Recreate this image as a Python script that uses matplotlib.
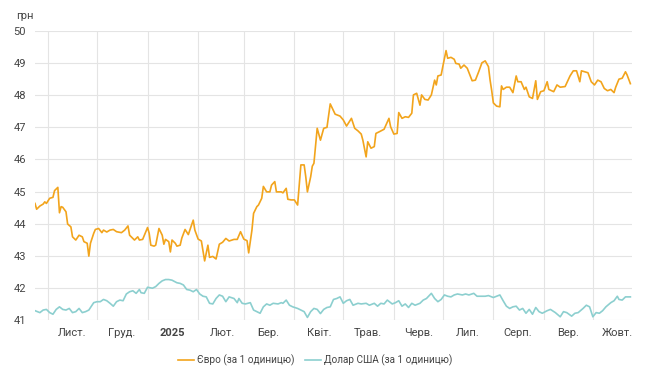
import numpy as np
import pandas as pd
import matplotlib
matplotlib.use("Agg")
import matplotlib.pyplot as plt

plt.rcParams['font.family'] = ['Roboto', 'DejaVu Sans']

start = pd.Timestamp('2024-10-24')
span_days = 366

# курс євро: день від початку періоду, грн
eur_day = [0, 1, 3, 5, 6, 7, 9, 11, 12, 14, 15, 16, 17, 19, 20, 22, 23, 25, 27, 29,
           30, 32, 33, 34, 36, 37, 39, 41, 42, 44, 46, 48, 50, 53, 55, 57, 58, 59, 61, 63,
           64, 66, 69, 70, 71, 73, 74, 76, 78, 79, 80, 82, 83, 84, 86, 87, 89, 90, 92, 94,
           97, 98, 100, 102, 104, 106, 107, 109, 111, 113, 115, 117, 119, 122, 124, 126, 128, 130, 131, 133,
           134, 136, 137, 139, 140, 142, 144, 145, 147, 148, 151, 152, 154, 155, 157, 159, 161, 163, 165, 166,
           167, 169, 170, 171, 173, 175, 177, 179, 181, 184, 187, 189, 191, 194, 196, 198, 200, 201, 203, 204,
           206, 208, 209, 211, 214, 217, 218, 220, 222, 223, 225, 227, 229, 231, 232, 234, 236, 237, 239, 241,
           243, 245, 246, 247, 249, 250, 252, 253, 255, 257, 258, 260, 261, 263, 265, 267, 268, 270, 272, 274,
           276, 278, 279, 280, 281, 283, 285, 286, 287, 289, 291, 293, 295, 296, 298, 300, 301, 303, 305, 307,
           308, 310, 312, 314, 315, 318, 320, 322, 325, 328, 330, 332, 334, 335, 337, 339, 341, 343, 345, 347,
           349, 351, 353, 355, 356, 358, 360, 362, 363, 365]
eur_val = [44.63, 44.45, 44.55, 44.61, 44.68, 44.63, 44.79, 44.82, 45.03, 45.13, 44.34, 44.53, 44.51, 44.37, 43.99, 43.90, 43.59, 43.49, 43.64, 43.59,
           43.44, 43.39, 42.99, 43.39, 43.70, 43.82, 43.85, 43.72, 43.80, 43.74, 43.80, 43.82, 43.75, 43.72, 43.80, 43.93, 43.64, 43.59, 43.49, 43.59,
           43.49, 43.51, 43.88, 43.70, 43.33, 43.30, 43.33, 43.85, 43.64, 43.36, 43.51, 43.44, 43.12, 43.49, 43.39, 43.30, 43.33, 43.55, 43.82, 43.66,
           44.11, 43.80, 43.52, 43.46, 42.84, 43.33, 42.95, 42.98, 42.90, 43.36, 43.42, 43.54, 43.46, 43.51, 43.51, 43.75, 43.52, 43.47, 43.09, 43.80,
           44.32, 44.53, 44.58, 44.79, 45.16, 44.99, 44.99, 45.20, 45.31, 44.99, 44.99, 44.96, 45.10, 44.76, 44.74, 44.74, 44.58, 45.83, 45.83, 45.46,
           44.99, 45.46, 45.79, 45.88, 46.97, 46.60, 46.97, 47.00, 47.73, 47.41, 47.35, 47.23, 47.04, 47.28, 46.97, 46.89, 46.79, 46.60, 46.08, 46.55,
           46.35, 46.40, 46.81, 46.86, 46.94, 47.28, 47.02, 46.79, 46.81, 47.46, 47.28, 47.33, 47.31, 47.44, 48.01, 48.06, 47.69, 48.01, 47.87, 47.85,
           48.01, 48.47, 48.32, 48.60, 48.63, 48.89, 49.39, 49.15, 49.18, 49.12, 48.99, 48.97, 48.84, 48.94, 48.84, 48.58, 48.45, 48.47, 48.73, 49.01,
           49.07, 48.89, 48.47, 48.14, 47.76, 47.66, 47.64, 48.29, 48.18, 48.25, 48.25, 48.08, 48.60, 48.42, 48.42, 48.18, 48.25, 47.95, 47.90, 48.45,
           47.87, 48.11, 48.14, 48.42, 48.18, 48.11, 48.32, 48.25, 48.27, 48.60, 48.76, 48.76, 48.42, 48.76, 48.73, 48.70, 48.42, 48.32, 48.47, 48.42,
           48.21, 48.14, 48.18, 48.08, 48.25, 48.50, 48.53, 48.73, 48.63, 48.36]

# курс долара США
usd_day = [0, 3, 5, 7, 9, 11, 13, 15, 17, 19, 21, 23, 25, 27, 29, 31, 33, 36, 38, 40,
           42, 44, 46, 48, 50, 52, 54, 56, 58, 60, 62, 64, 65, 67, 69, 72, 74, 76, 78, 80,
           82, 84, 87, 89, 91, 93, 95, 97, 99, 101, 103, 105, 107, 109, 111, 113, 115, 117, 119, 122,
           124, 125, 127, 129, 132, 134, 136, 138, 140, 142, 144, 146, 149, 151, 152, 154, 156, 158, 161, 163,
           165, 167, 169, 171, 173, 175, 177, 179, 181, 183, 185, 187, 189, 191, 193, 195, 198, 200, 203, 205,
           208, 210, 212, 214, 216, 219, 221, 223, 225, 227, 229, 231, 233, 236, 238, 240, 243, 245, 247, 249,
           251, 253, 255, 257, 259, 262, 264, 266, 269, 271, 273, 276, 278, 281, 283, 285, 287, 289, 291, 293,
           295, 297, 299, 301, 303, 305, 307, 309, 311, 314, 316, 319, 322, 324, 326, 329, 331, 333, 336, 338,
           340, 342, 344, 346, 348, 350, 353, 355, 357, 358, 360, 362, 365]
usd_val = [41.29, 41.23, 41.31, 41.33, 41.23, 41.18, 41.33, 41.41, 41.33, 41.31, 41.36, 41.23, 41.26, 41.36, 41.23, 41.26, 41.31, 41.54, 41.57, 41.57,
           41.64, 41.60, 41.52, 41.43, 41.57, 41.62, 41.60, 41.81, 41.88, 41.91, 41.83, 41.95, 41.85, 41.83, 42.02, 41.99, 42.04, 42.14, 42.22, 42.26,
           42.26, 42.24, 42.16, 42.14, 42.09, 41.95, 41.93, 41.88, 41.95, 41.81, 41.74, 41.72, 41.52, 41.50, 41.67, 41.78, 41.74, 41.57, 41.72, 41.67,
           41.54, 41.67, 41.52, 41.50, 41.54, 41.31, 41.26, 41.21, 41.41, 41.50, 41.46, 41.52, 41.50, 41.54, 41.52, 41.62, 41.46, 41.41, 41.36, 41.31,
           41.26, 41.08, 41.26, 41.36, 41.33, 41.20, 41.33, 41.39, 41.41, 41.64, 41.67, 41.72, 41.52, 41.60, 41.64, 41.46, 41.52, 41.50, 41.52, 41.46,
           41.52, 41.43, 41.52, 41.50, 41.62, 41.50, 41.54, 41.60, 41.43, 41.50, 41.39, 41.52, 41.46, 41.52, 41.62, 41.67, 41.83, 41.67, 41.57, 41.64,
           41.78, 41.74, 41.72, 41.78, 41.81, 41.78, 41.81, 41.78, 41.83, 41.74, 41.74, 41.74, 41.76, 41.70, 41.74, 41.78, 41.60, 41.43, 41.36, 41.41,
           41.43, 41.31, 41.36, 41.21, 41.33, 41.18, 41.39, 41.26, 41.21, 41.29, 41.33, 41.23, 41.10, 41.26, 41.23, 41.12, 41.21, 41.23, 41.36, 41.46,
           41.41, 41.10, 41.23, 41.21, 41.29, 41.41, 41.54, 41.60, 41.74, 41.64, 41.62, 41.72, 41.72]

month_labels = ['Лист.', 'Груд.', '2025', 'Лют.', 'Бер.', 'Квіт.', 'Трав.', 'Черв.',
                'Лип.', 'Серп.', 'Вер.', 'Жовт.']
series_names = ['Євро (за 1 одиницю)', 'Долар США (за 1 одиницю)']

eur_color = '#f2a41c'
usd_color = '#8ccfcf'
text_color = '#444444'
grid_color = '#e4e4e4'

eur_dates = start + pd.to_timedelta(eur_day, unit='D')
usd_dates = start + pd.to_timedelta(usd_day, unit='D')

fig = plt.figure(figsize=(6.5, 3.83), dpi=100)
ax = fig.add_axes([35 / 650, 1 - 320 / 383, 597 / 650, 289 / 383])

ax.plot(eur_dates, eur_val, color=eur_color, lw=1.2, label=series_names[0], zorder=3)
ax.plot(usd_dates, usd_val, color=usd_color, lw=1.2, label=series_names[1], zorder=3)

ax.set_xlim(start, start + pd.Timedelta(days=span_days))
ax.set_ylim(41, 50)
ax.set_yticks(np.arange(41, 51))

# сітка по початках місяців, підписи посередині місяця
month_starts = pd.date_range('2024-11-01', periods=12, freq='MS')
ax.set_xticks(month_starts)
ax.set_xticklabels([])
ax.set_xticks(month_starts + pd.Timedelta(days=15), minor=True)
ax.set_xticklabels(month_labels, minor=True)
for lab in ax.get_xticklabels(minor=True):
    if lab.get_text() == '2025':
        lab.set_fontweight('bold')

ax.grid(True, which='major', color=grid_color, lw=0.8, zorder=0)
ax.tick_params(which='both', length=0, labelsize=8, colors=text_color)
ax.tick_params(axis='x', which='minor', pad=6)
ax.tick_params(axis='y', pad=6.5)
for s in ax.spines.values():
    s.set_visible(False)

fig.text(16 / 650, 1 - 16 / 383, 'грн', fontsize=8, color=text_color, va='center', ha='left')

fig.legend(loc='center', bbox_to_anchor=(315 / 650, 1 - 360 / 383), ncol=2, frameon=False,
           fontsize=7.2, labelcolor=text_color, handlelength=1.6, handletextpad=0.3,
           columnspacing=1.0)

fig.savefig('out.png', dpi=100)
